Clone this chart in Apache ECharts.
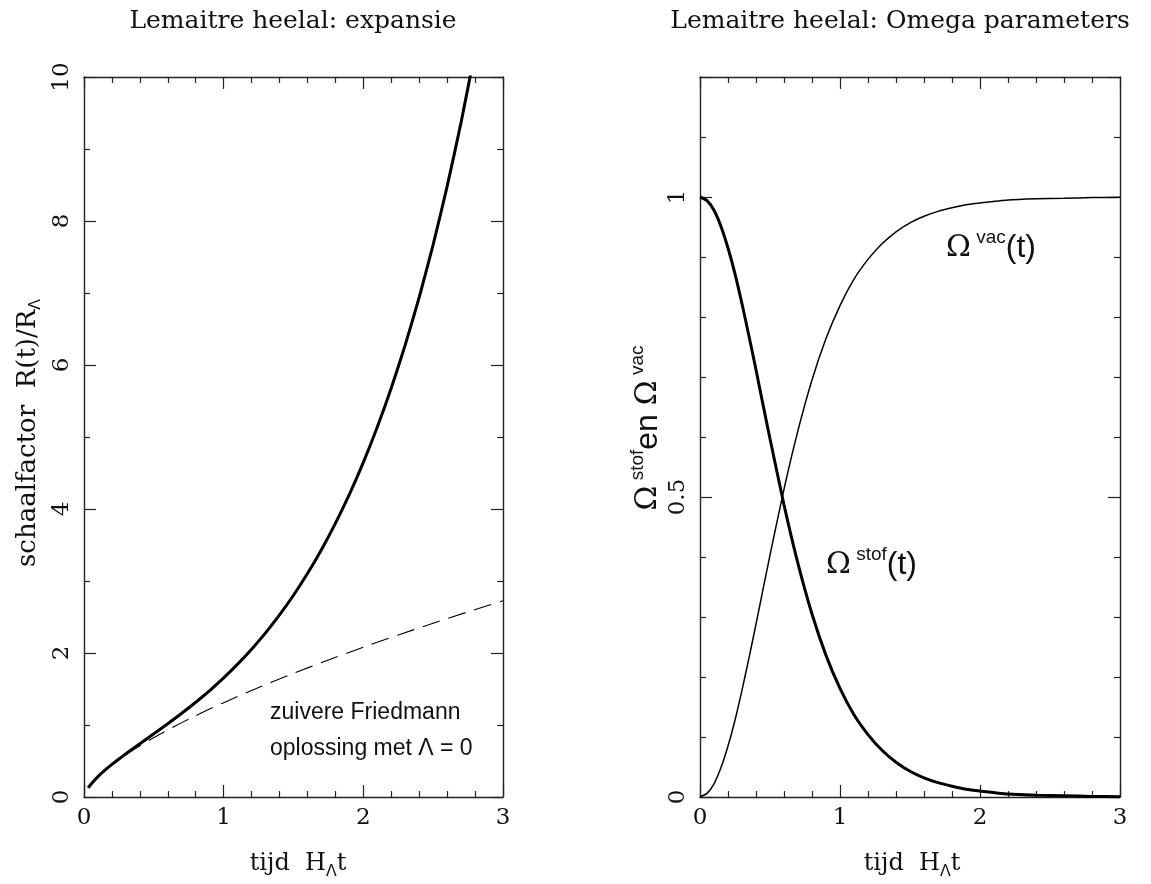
<!DOCTYPE html>
<html>
<head>
<meta charset="utf-8">
<script src="https://cdn.jsdelivr.net/npm/echarts@6/dist/echarts.min.js"></script>
<style>
html,body{margin:0;padding:0;background:#fff;}
#chart{width:1151px;height:884px;}
</style>
</head>
<body>
<div id="chart"></div>
<script>
// ---- data ----
// Left panel: Lemaitre expansion R(t)/R_Lambda (solid)
const tLemaitre = [0.03, 0.05, 0.1, 0.15, 0.2, 0.25, 0.3, 0.4, 0.5, 0.6, 0.7, 0.8, 0.9, 1.0, 1.1, 1.2, 1.3, 1.4, 1.5, 1.6, 1.7, 1.8, 1.9, 2.0, 2.1, 2.2, 2.3, 2.4, 2.5, 2.6, 2.7, 2.8];
const rLemaitre = [0.127, 0.178, 0.283, 0.372, 0.453, 0.528, 0.600, 0.740, 0.878, 1.018, 1.163, 1.316, 1.479, 1.655, 1.846, 2.053, 2.280, 2.529, 2.802, 3.103, 3.434, 3.800, 4.202, 4.647, 5.138, 5.680, 6.279, 6.941, 7.673, 8.480, 9.372, 10.357];
// Left panel: pure Friedmann solution with Lambda = 0 (dashed)
const tFriedmann = [0.3, 0.4, 0.5, 0.6, 0.7, 0.8, 0.9, 1.0, 1.2, 1.5, 1.75, 2.0, 2.25, 2.5, 2.75, 3.0];
const rFriedmann = [0.587, 0.711, 0.826, 0.932, 1.033, 1.129, 1.222, 1.310, 1.480, 1.717, 1.903, 2.080, 2.250, 2.414, 2.572, 2.726];
// Right panel: Omega parameters
const tOmega = [0, 0.05, 0.1, 0.15, 0.2, 0.25, 0.3, 0.35, 0.4, 0.45, 0.5, 0.6, 0.7, 0.8, 0.9, 1.0, 1.1, 1.2, 1.3, 1.4, 1.5, 1.6, 1.7, 1.8, 1.9, 2.0, 2.2, 2.4, 2.6, 2.8, 3.0];
const omegaStof = [1.000, 0.994, 0.978, 0.951, 0.915, 0.872, 0.822, 0.768, 0.712, 0.654, 0.597, 0.487, 0.389, 0.305, 0.236, 0.181, 0.137, 0.104, 0.078, 0.058, 0.043, 0.032, 0.024, 0.018, 0.013, 0.010, 0.005, 0.003, 0.002, 0.001, 0.0005];
const omegaVac = [0.000, 0.006, 0.022, 0.049, 0.085, 0.128, 0.178, 0.232, 0.288, 0.346, 0.403, 0.513, 0.611, 0.695, 0.764, 0.819, 0.863, 0.896, 0.922, 0.942, 0.957, 0.968, 0.976, 0.982, 0.987, 0.990, 0.995, 0.997, 0.998, 0.999, 0.9995];
// tick labels
const xTickLabels = ['0', '1', '2', '3'];
const yLeftTickLabels = ['0', '2', '4', '6', '8', '10'];
const yRightTickLabels = ['0', '0.5', '1'];

const pairs = (xs, ys) => xs.map((x, i) => [x, ys[i]]);

const SERIF = '"DejaVu Serif", serif';
const SANS = '"Liberation Sans", Arial, sans-serif';
const AX = '#222';

function xAxisDef(grid, pos, showLabels) {
  return {
    type: 'value', gridIndex: grid, position: pos, min: 0, max: 3, interval: 1,
    axisLine: { show: true, onZero: false, lineStyle: { color: AX, width: 1.4 } },
    axisTick: { show: true, inside: true, length: 12, lineStyle: { color: AX, width: 1.2 } },
    minorTick: { show: true, splitNumber: 5, length: 6, lineStyle: { color: AX, width: 1.2 } },
    splitLine: { show: false },
    axisLabel: {
      show: showLabels, margin: 10, color: '#111', fontFamily: SERIF, fontSize: 23,
      formatter: v => { const i = Math.round(v); return Math.abs(v - i) < 1e-6 ? xTickLabels[i] : ''; }
    }
  };
}
function yAxisDef(grid, pos, showLabels, min, max, interval, minorSplit, labels) {
  return {
    type: 'value', gridIndex: grid, position: pos, min: min, max: max, interval: interval,
    axisLine: { show: true, onZero: false, lineStyle: { color: AX, width: 1.4 } },
    axisTick: { show: true, inside: true, length: 12, lineStyle: { color: AX, width: 1.2 } },
    minorTick: { show: true, splitNumber: minorSplit, length: 6, lineStyle: { color: AX, width: 1.2 } },
    splitLine: { show: false },
    axisLabel: {
      show: showLabels, rotate: 90, margin: 10, color: '#111', fontFamily: SERIF, fontSize: 23,
      showMaxLabel: max % interval === 0,
      formatter: v => { const k = Math.round(v / interval); return Math.abs(v - k * interval) < 1e-6 && labels[k] !== undefined ? labels[k] : ''; }
    }
  };
}

const sub = { fontFamily: SANS, fontSize: 16, lineHeight: 16, verticalAlign: 'bottom', fill: '#111' };
const serifMain = { fontFamily: SERIF, fontSize: 24, lineHeight: 32, fill: '#111' };
const omegaRich = {
  o: { fontFamily: SERIF, fontSize: 30, lineHeight: 40, fill: '#111' },
  b: { fontFamily: SANS, fontSize: 32, lineHeight: 40, fill: '#111' },
  p: { fontFamily: SANS, fontSize: 19, lineHeight: 20, verticalAlign: 'top', fill: '#111' }
};

const chart = echarts.init(document.getElementById('chart'), null, { renderer: 'canvas' });
chart.setOption({
  backgroundColor: '#fff',
  animation: false,
  grid: [
    { left: 84, right: 648, top: 77, bottom: 87 },
    { left: 700, right: 31, top: 77, bottom: 87 }
  ],
  xAxis: [
    xAxisDef(0, 'bottom', true), xAxisDef(0, 'top', false),
    xAxisDef(1, 'bottom', true), xAxisDef(1, 'top', false)
  ],
  yAxis: [
    yAxisDef(0, 'left', true, 0, 10, 2, 2, yLeftTickLabels), yAxisDef(0, 'right', false, 0, 10, 2, 2, yLeftTickLabels),
    yAxisDef(1, 'left', true, 0, 1.2, 0.5, 5, yRightTickLabels), yAxisDef(1, 'right', false, 0, 1.2, 0.5, 5, yRightTickLabels)
  ],
  series: [
    { type: 'line', xAxisIndex: 0, yAxisIndex: 0, data: pairs(tLemaitre, rLemaitre), showSymbol: false, smooth: 0.2, clip: true,
      lineStyle: { color: '#000', width: 3 } },
    { type: 'line', xAxisIndex: 0, yAxisIndex: 0, data: pairs(tFriedmann, rFriedmann), showSymbol: false, smooth: 0.2, clip: true,
      lineStyle: { color: '#000', width: 1.1, type: [18, 9] } },
    { type: 'line', xAxisIndex: 2, yAxisIndex: 2, data: pairs(tOmega, omegaStof), showSymbol: false, smooth: 0.2, clip: true,
      lineStyle: { color: '#000', width: 3 } },
    { type: 'line', xAxisIndex: 2, yAxisIndex: 2, data: pairs(tOmega, omegaVac), showSymbol: false, smooth: 0.2, clip: true,
      lineStyle: { color: '#000', width: 1.5 } }
  ],
  graphic: [
    { type: 'text', x: 293, y: 21, style: { text: 'Lemaitre heelal: expansie', font: '25px ' + SERIF, fill: '#111', align: 'center', verticalAlign: 'middle' } },
    { type: 'text', x: 900, y: 21, style: { text: 'Lemaitre heelal: Omega parameters', font: '25px ' + SERIF, fill: '#111', align: 'center', verticalAlign: 'middle' } },
    // x axis titles
    { type: 'text', x: 298, y: 864, style: { text: '{m|tijd  H}{s|Λ}{m|t}', align: 'center', verticalAlign: 'middle', rich: { m: serifMain, s: sub } } },
    { type: 'text', x: 912, y: 864, style: { text: '{m|tijd  H}{s|Λ}{m|t}', align: 'center', verticalAlign: 'middle', rich: { m: serifMain, s: sub } } },
    // left y title
    { type: 'text', x: 28, y: 433, rotation: Math.PI / 2, style: { text: '{m|schaalfactor  R(t)/R}{s|Λ}', align: 'center', verticalAlign: 'middle',
      rich: { m: { fontFamily: SERIF, fontSize: 26, lineHeight: 32, fill: '#111' }, s: sub } } },
    // right y title
    { type: 'text', x: 648, y: 428, rotation: Math.PI / 2, style: { text: '{o|Ω}{p| stof}{b|en }{o|Ω}{p| vac}', align: 'center', verticalAlign: 'middle', rich: omegaRich } },
    // annotations
    { type: 'text', x: 270, y: 713, style: { text: 'zuivere Friedmann', font: '23px ' + SANS, fill: '#111', align: 'left', verticalAlign: 'middle' } },
    { type: 'text', x: 270, y: 749, style: { text: 'oplossing met Λ = 0', font: '23px ' + SANS, fill: '#111', align: 'left', verticalAlign: 'middle' } },
    { type: 'text', x: 946, y: 248, style: { text: '{o|Ω}{p| vac}{b|(t)}', align: 'left', verticalAlign: 'middle', rich: omegaRich } },
    { type: 'text', x: 826, y: 565, style: { text: '{o|Ω}{p| stof}{b|(t)}', align: 'left', verticalAlign: 'middle', rich: omegaRich } }
  ]
});
</script>
</body>
</html>
